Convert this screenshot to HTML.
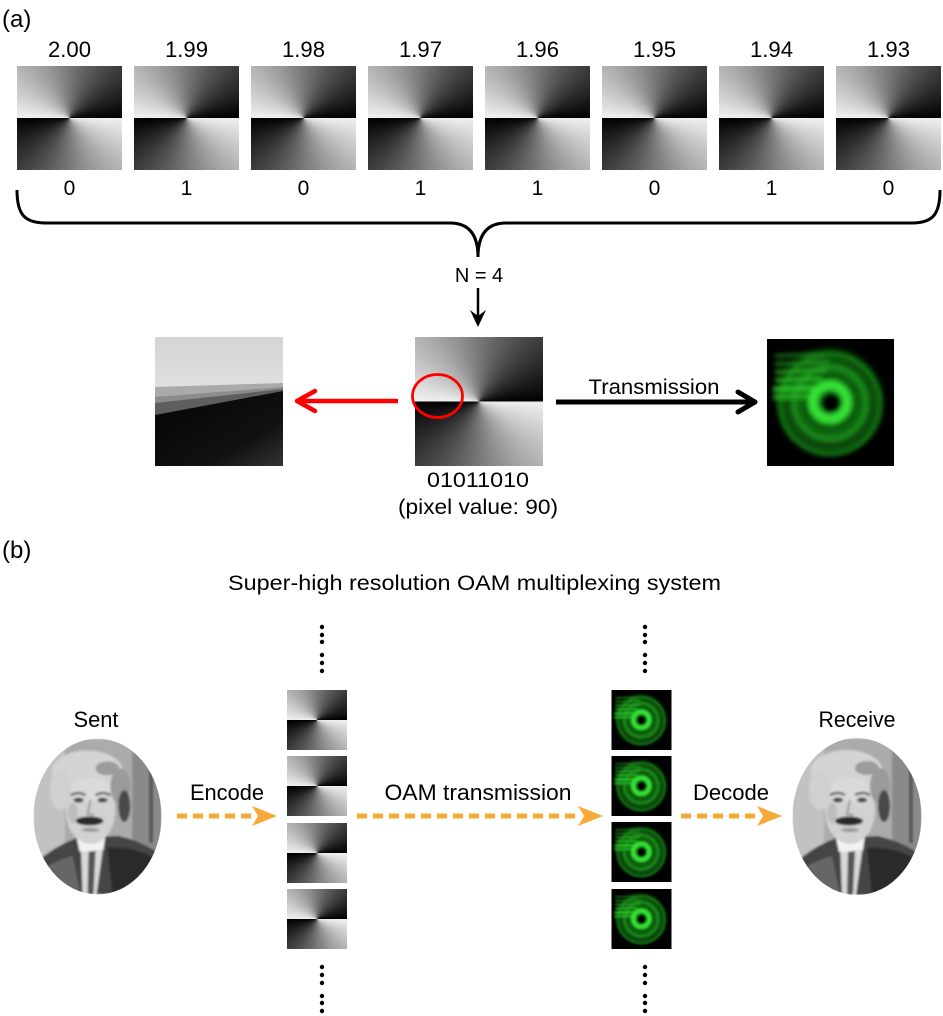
<!DOCTYPE html>
<html><head><meta charset="utf-8"><style>
html,body{margin:0;padding:0;background:#fff;}
#c{position:relative;width:943px;height:1016px;overflow:hidden;background:#fff;}
.ph{position:absolute;background:conic-gradient(from 90deg at 50% 50%, #f0f0f0 0deg, #000 180deg, #f0f0f0 180deg, #000 360deg);}
svg{position:absolute;left:0;top:0;}
text{font-family:"Liberation Sans",sans-serif;fill:#000;}
</style></head><body><div id="c">

<div class="ph" style="left:17px;top:66px;width:105px;height:104px"></div>
<div class="ph" style="left:134px;top:66px;width:105px;height:104px"></div>
<div class="ph" style="left:251px;top:66px;width:105px;height:104px"></div>
<div class="ph" style="left:368px;top:66px;width:105px;height:104px"></div>
<div class="ph" style="left:485px;top:66px;width:105px;height:104px"></div>
<div class="ph" style="left:602px;top:66px;width:105px;height:104px"></div>
<div class="ph" style="left:719px;top:66px;width:105px;height:104px"></div>
<div class="ph" style="left:836px;top:66px;width:105px;height:104px"></div>

<div class="ph" style="left:415px;top:337px;width:128px;height:129px"></div>

<div class="ph" style="left:287px;top:690px;width:60px;height:60px"></div>
<div class="ph" style="left:287px;top:756px;width:60px;height:60px"></div>
<div class="ph" style="left:287px;top:823px;width:60px;height:60px"></div>
<div class="ph" style="left:287px;top:889px;width:60px;height:60px"></div>

<svg width="943" height="1016" viewBox="0 0 943 1016" xmlns="http://www.w3.org/2000/svg">
<defs>
  <filter id="bl2" x="-10%" y="-10%" width="120%" height="120%"><feGaussianBlur stdDeviation="2.5"/></filter>
  <filter id="bl1"><feGaussianBlur stdDeviation="1"/></filter>
  <radialGradient id="env" cx="0.5" cy="0.5" r="0.5">
    <stop offset="0" stop-color="#178a17"/>
    <stop offset="0.55" stop-color="#0f6a0f"/>
    <stop offset="0.85" stop-color="#083c08"/>
    <stop offset="1" stop-color="#000" stop-opacity="0"/>
  </radialGradient>
  <linearGradient id="topg" x1="0" y1="0" x2="0" y2="1">
    <stop offset="0" stop-color="#d4d4d4"/>
    <stop offset="1" stop-color="#f3f3f3"/>
  </linearGradient>
  <linearGradient id="blk" x1="0" y1="0" x2="1" y2="1">
    <stop offset="0" stop-color="#040404"/>
    <stop offset="0.7" stop-color="#111"/>
    <stop offset="1" stop-color="#333"/>
  </linearGradient>
  <clipPath id="eclip"><ellipse cx="65" cy="78.5" rx="64.5" ry="78.5"/></clipPath>
  <clipPath id="gclip"><rect x="0" y="0" width="127" height="127"/></clipPath>

  <symbol id="beam" viewBox="0 0 127 127">
    <rect x="0" y="0" width="127" height="127" fill="#000"/>
    <g clip-path="url(#gclip)">
    <g filter="url(#bl2)">
      <circle cx="63" cy="62" r="58" fill="url(#env)"/>
      <circle cx="63" cy="63" r="27" fill="none" stroke="#0a4a0a" stroke-width="3"/>
      <circle cx="63" cy="64" r="36" fill="none" stroke="#1d8f1d" stroke-width="4"/>
      <circle cx="63" cy="65" r="45" fill="none" stroke="#0a4a0a" stroke-width="3"/>
      <circle cx="63" cy="65" r="50" fill="none" stroke="#167a16" stroke-width="4"/>
      <line x1="8" y1="17" x2="58" y2="15" stroke="#1a861a" stroke-width="3"/>
      <line x1="8" y1="25" x2="62" y2="23" stroke="#1f9a1f" stroke-width="3"/>
      <line x1="8" y1="33" x2="60" y2="31" stroke="#22a822" stroke-width="3.5"/>
      <line x1="8" y1="41" x2="55" y2="40" stroke="#27b827" stroke-width="3.5"/>
      <line x1="6" y1="50" x2="50" y2="49" stroke="#2cc82c" stroke-width="4.5"/>
      <line x1="6" y1="58" x2="46" y2="57" stroke="#25b025" stroke-width="4.5"/>
      <circle cx="63" cy="63" r="17" fill="none" stroke="#36e036" stroke-width="9"/>
      <circle cx="64" cy="64" r="10" fill="#000"/>
    </g>
    </g>
  </symbol>

  <symbol id="ein" viewBox="0 0 130 157">
    <g clip-path="url(#eclip)">
      <g filter="url(#bl1)">
        <rect x="0" y="0" width="130" height="157" fill="#ababab"/>
        <rect x="0" y="0" width="32" height="157" fill="#c2c2c2"/>
        <rect x="100" y="10" width="30" height="110" fill="#8a8a8a"/>
        <rect x="117" y="25" width="4" height="80" fill="#555"/>
        <path d="M0,128 Q18,110 44,100 L86,98 Q112,104 130,118 L130,157 L0,157 Z" fill="#444"/>
        <path d="M0,140 Q15,125 40,118 L48,157 L0,157 Z" fill="#666"/>
        <path d="M75,110 Q105,108 130,125 L130,157 L80,157 Z" fill="#2a2a2a"/>
        <polygon points="48,102 72,100 64,157 50,157" fill="#d8d8d8"/>
        <polygon points="56,114 63,113 61,157 55,157" fill="#555"/>
        <polygon points="44,100 73,97 71,112 47,114" fill="#f2f2f2"/>
        <ellipse cx="58" cy="72" rx="25" ry="34" fill="#d2d2d2"/>
        <ellipse cx="55" cy="34" rx="36" ry="22" fill="#d4d4d4"/>
        <ellipse cx="28" cy="52" rx="11" ry="20" fill="#d0d0d0"/>
        <ellipse cx="88" cy="48" rx="10" ry="18" fill="#9a9a9a"/>
        <ellipse cx="92" cy="68" rx="6" ry="16" fill="#4a4a4a"/>
        <ellipse cx="75" cy="30" rx="12" ry="7" fill="#9c9c9c"/>
        <ellipse cx="58" cy="52" rx="20" ry="12" fill="#dadada"/>
        <path d="M38,57 Q46,53 53,57" stroke="#666" stroke-width="2.5" fill="none"/>
        <path d="M63,57 Q71,53 78,57" stroke="#666" stroke-width="2.5" fill="none"/>
        <ellipse cx="46" cy="62" rx="5" ry="2.5" fill="#4a4a4a"/>
        <ellipse cx="70" cy="62" rx="5" ry="2.5" fill="#4a4a4a"/>
        <path d="M58,62 L55,76 L61,77" stroke="#999" stroke-width="2" fill="none"/>
        <ellipse cx="57" cy="83" rx="14" ry="4.5" fill="#2a2a2a"/>
        <ellipse cx="58" cy="92" rx="9" ry="2" fill="#999"/>
        <ellipse cx="40" cy="75" rx="5" ry="10" fill="#bdbdbd"/>
      </g>
    </g>
  </symbol>
</defs>

<!-- (a) -->
<text x="2" y="27" font-size="24">(a)</text>
<g font-size="22" text-anchor="middle">
  <text x="69.5" y="57" textLength="43" lengthAdjust="spacingAndGlyphs">2.00</text>
  <text x="186.5" y="57" textLength="43" lengthAdjust="spacingAndGlyphs">1.99</text>
  <text x="303.5" y="57" textLength="43" lengthAdjust="spacingAndGlyphs">1.98</text>
  <text x="420.5" y="57" textLength="43" lengthAdjust="spacingAndGlyphs">1.97</text>
  <text x="537.5" y="57" textLength="43" lengthAdjust="spacingAndGlyphs">1.96</text>
  <text x="654.5" y="57" textLength="43" lengthAdjust="spacingAndGlyphs">1.95</text>
  <text x="771.5" y="57" textLength="43" lengthAdjust="spacingAndGlyphs">1.94</text>
  <text x="888.5" y="57" textLength="43" lengthAdjust="spacingAndGlyphs">1.93</text>
</g>
<g font-size="21" text-anchor="middle">
  <text x="69.5" y="195">0</text>
  <text x="186.5" y="195">1</text>
  <text x="303.5" y="195">0</text>
  <text x="420.5" y="195">1</text>
  <text x="537.5" y="195">1</text>
  <text x="654.5" y="195">0</text>
  <text x="771.5" y="195">1</text>
  <text x="888.5" y="195">0</text>
</g>

<!-- brace -->
<path d="M17,190 C17,214 24,223 46,223 L450,223 C470,223 478,236 478,257 C478,236 486,223 506,223 L912,223 C933,223 940,214 940,190" fill="none" stroke="#000" stroke-width="3"/>
<text x="479" y="282" font-size="20" text-anchor="middle">N = 4</text>
<line x1="478" y1="288" x2="478" y2="318" stroke="#000" stroke-width="2.5"/>
<polygon points="470,310 478,327 486,310 478,316" fill="#000"/>

<!-- zoomed detail image -->
<g transform="translate(155,337)">
  <rect x="0" y="0" width="128" height="129" fill="url(#topg)"/>
  <polygon points="0,50 128,46 128,129 0,129" fill="#aaaaaa"/>
  <polygon points="0,60 128,50 128,129 0,129" fill="#8c8c8c"/>
  <polygon points="0,66 128,52 128,129 0,129" fill="#5e5e5e"/>
  <polygon points="0,78 128,54 128,129 0,129" fill="url(#blk)"/>
</g>

<!-- red arrow -->
<line x1="398" y1="401" x2="299" y2="401" stroke="#ff0000" stroke-width="4.5"/>
<polyline points="315,391 297,401 315,411" fill="none" stroke="#ff0000" stroke-width="4.5" stroke-linecap="round" stroke-linejoin="round"/>
<ellipse cx="437.5" cy="396" rx="25" ry="21.5" fill="none" stroke="#ff0000" stroke-width="2.8"/>

<text x="478" y="487" font-size="21" text-anchor="middle" textLength="102" lengthAdjust="spacingAndGlyphs">01011010</text>
<text x="478" y="514" font-size="21" text-anchor="middle" textLength="160" lengthAdjust="spacingAndGlyphs">(pixel value: 90)</text>

<!-- transmission arrow -->
<text x="654" y="394" font-size="21" text-anchor="middle" textLength="131" lengthAdjust="spacingAndGlyphs">Transmission</text>
<line x1="556" y1="402" x2="753" y2="402" stroke="#000" stroke-width="5"/>
<polyline points="738,392 755,402 738,412" fill="none" stroke="#000" stroke-width="5" stroke-linecap="round" stroke-linejoin="round"/>
<use href="#beam" x="767" y="339" width="127" height="127"/>

<!-- (b) -->
<text x="2" y="558" font-size="24">(b)</text>
<text x="228" y="590" font-size="21" textLength="493" lengthAdjust="spacingAndGlyphs">Super-high resolution OAM multiplexing system</text>

<!-- dots -->
<g fill="#000">
  <circle cx="322" cy="627" r="2.2"/><circle cx="322" cy="635" r="2.2"/><circle cx="322" cy="642" r="2.2"/>
  <circle cx="322" cy="655" r="2.2"/><circle cx="322" cy="663" r="2.2"/><circle cx="322" cy="671" r="2.2"/>
  <circle cx="322" cy="967" r="2.2"/><circle cx="322" cy="975" r="2.2"/><circle cx="322" cy="983" r="2.2"/>
  <circle cx="322" cy="996" r="2.2"/><circle cx="322" cy="1003" r="2.2"/><circle cx="322" cy="1011" r="2.2"/>
  <circle cx="645" cy="627" r="2.2"/><circle cx="645" cy="635" r="2.2"/><circle cx="645" cy="642" r="2.2"/>
  <circle cx="645" cy="655" r="2.2"/><circle cx="645" cy="663" r="2.2"/><circle cx="645" cy="671" r="2.2"/>
  <circle cx="645" cy="967" r="2.2"/><circle cx="645" cy="975" r="2.2"/><circle cx="645" cy="983" r="2.2"/>
  <circle cx="645" cy="996" r="2.2"/><circle cx="645" cy="1003" r="2.2"/><circle cx="645" cy="1011" r="2.2"/>
</g>

<!-- einstein -->
<use href="#ein" x="33" y="738" width="129" height="157"/>
<use href="#ein" x="792" y="738" width="130" height="157"/>

<!-- green stack -->
<use href="#beam" x="611" y="690" width="61" height="60"/>
<use href="#beam" x="611" y="756" width="61" height="60"/>
<use href="#beam" x="611" y="822" width="61" height="60"/>
<use href="#beam" x="611" y="889" width="61" height="60"/>

<!-- labels bottom -->
<g font-size="22" text-anchor="middle">
  <text x="96" y="727" textLength="45" lengthAdjust="spacingAndGlyphs">Sent</text>
  <text x="857" y="727" textLength="77" lengthAdjust="spacingAndGlyphs">Receive</text>
  <text x="227" y="800" textLength="74" lengthAdjust="spacingAndGlyphs">Encode</text>
  <text x="478" y="800" textLength="187" lengthAdjust="spacingAndGlyphs">OAM transmission</text>
  <text x="731" y="800" textLength="76" lengthAdjust="spacingAndGlyphs">Decode</text>
</g>

<!-- orange arrows -->
<g stroke="#f6aa3a" stroke-width="5" stroke-dasharray="10 6" fill="none">
  <line x1="177" y1="816" x2="254" y2="816"/>
  <line x1="357" y1="816" x2="580" y2="816"/>
  <line x1="681" y1="816" x2="758" y2="816"/>
</g>
<g fill="#f6aa3a">
  <polygon points="252,806 277,816 252,826 258,816"/>
  <polygon points="578,806 603,816 578,826 584,816"/>
  <polygon points="757,806 782,816 757,826 763,816"/>
</g>
</svg>
</div></body></html>
